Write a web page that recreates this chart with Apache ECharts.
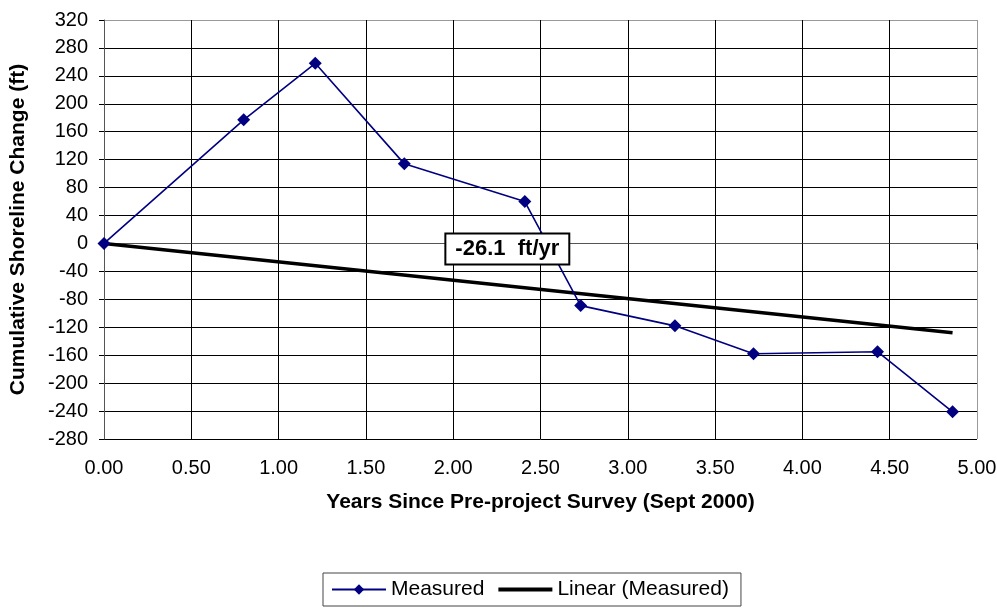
<!DOCTYPE html>
<html>
<head>
<meta charset="utf-8">
<script src="https://cdn.jsdelivr.net/npm/echarts@6/dist/echarts.min.js"></script>
<style>html,body{margin:0;padding:0;background:#fff}#c{width:997px;height:613px}</style>
</head>
<body>
<div id="c"></div>
<script>
var years = [0.00, 0.80, 1.21, 1.72, 2.41, 2.73, 3.27, 3.72, 4.43, 4.86];
var measured = [0, 177, 258, 114, 60, -89, -118, -158, -155, -241];
var trendYears = [0.00, 4.86];
var trendValues = [0, -128];
var trendLabel = '-26.1  ft/yr';
var trendLabelPos = [2.31, -8];
var xMin = 0, xMax = 5, xStep = 0.5;
var yMin = -280, yMax = 320, yStep = 40;

var font = 'Arial, "Liberation Sans", sans-serif';
function pairs(a, b){ return a.map(function(v,i){ return [v, b[i]]; }); }
var ySplitColors = []; for (var i = 0; i < 15; i++) ySplitColors.push('#000'); ySplitColors.push('#999');
var xSplitColors = []; for (var j = 0; j < 10; j++) xSplitColors.push('#000'); xSplitColors.push('#999');

var chart = echarts.init(document.getElementById('c'), null, {renderer: 'canvas'});
chart.setOption({
  animation: false,
  backgroundColor: '#fff',
  grid: {left: 104, right: 20, top: 20, bottom: 174, show: false, containLabel: false, outerBoundsMode: 'none'},
  xAxis: {
    type: 'value', min: xMin, max: xMax, interval: xStep,
    name: 'Years Since Pre-project Survey (Sept 2000)',
    nameLocation: 'middle', nameGap: 53,
    nameTextStyle: {fontFamily: font, fontWeight: 'bold', fontSize: 21, color: '#000'},
    axisLine: {show: true, lineStyle: {color: '#555', width: 1}},
    axisTick: {show: true, inside: false, length: 6, lineStyle: {color: '#000'}},
    axisLabel: {fontFamily: font, fontSize: 20, color: '#000', margin: 19, formatter: function(v){ return v.toFixed(2); }},
    splitLine: {show: true, lineStyle: {color: xSplitColors, width: 1}}
  },
  yAxis: {
    type: 'value', min: yMin, max: yMax, interval: yStep,
    name: 'Cumulative Shoreline Change (ft)',
    nameLocation: 'middle', nameGap: 75, nameRotate: 90,
    nameTextStyle: {fontFamily: font, fontWeight: 'bold', fontSize: 21, color: '#000'},
    axisLine: {show: true, lineStyle: {color: '#555', width: 1}},
    axisTick: {show: true, inside: false, length: 5, lineStyle: {color: '#000'}},
    axisLabel: {fontFamily: font, fontSize: 20, color: '#000', margin: 16},
    splitLine: {show: true, lineStyle: {color: ySplitColors, width: 1}}
  },
  legend: {
    top: 573, left: 323,
    data: [
      {name: 'Measured'},
      {name: 'Linear (Measured)', icon: 'path://M0,0H100V7H0Z', itemStyle: {color: '#000'}}
    ],
    itemWidth: 54, itemHeight: 13, itemGap: 14, symbolKeepAspect: true,
    borderColor: '#444', borderWidth: 1, borderRadius: 0,
    padding: [6, 12, 6, 8],
    textStyle: {fontFamily: font, fontSize: 21, color: '#000'}
  },
  series: [
    {
      name: 'Measured', type: 'line',
      data: pairs(years, measured),
      symbol: 'diamond', symbolSize: 13,
      lineStyle: {color: '#000080', width: 1.6},
      itemStyle: {color: '#000080'},
      z: 3
    },
    {
      name: 'Linear (Measured)', type: 'line',
      data: pairs(trendYears, trendValues),
      symbol: 'none',
      lineStyle: {color: '#000', width: 3.5},
      itemStyle: {color: '#000'},
      z: 2,
      markPoint: {
        symbol: 'rect', symbolSize: 1,
        itemStyle: {color: 'rgba(0,0,0,0)'},
        data: [{coord: trendLabelPos, value: trendLabel}],
        label: {
          show: true, position: 'inside',
          formatter: function(){ return trendLabel; },
          fontFamily: font, fontWeight: 'bold', fontSize: 22, color: '#000',
          backgroundColor: '#fff', borderColor: '#000', borderWidth: 2,
          padding: [4, 9, 3, 9]
        },
        z: 10
      }
    }
  ]
});
</script>
</body>
</html>
